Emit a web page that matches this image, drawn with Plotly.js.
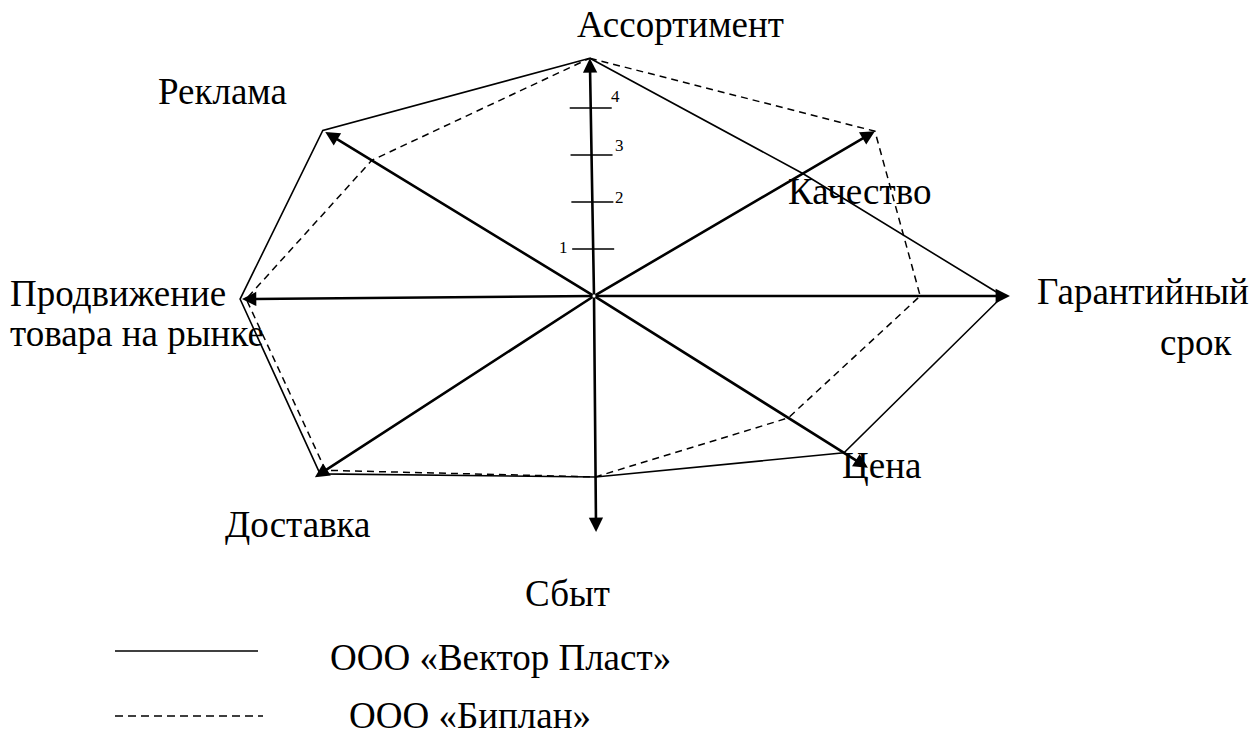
<!DOCTYPE html>
<html>
<head>
<meta charset="utf-8">
<script src="https://cdn.plot.ly/plotly-3.0.1.min.js"></script>
<style>
  html, body { margin: 0; padding: 0; background: #fff; }
  #chart { width: 1256px; height: 737px; }
</style>
</head>
<body>
<div id="chart"></div>
<script>
// criteria of the radar chart
const categories = ['Ассортимент', 'Качество', 'Гарантийный срок', 'Цена', 'Сбыт',
                    'Доставка', 'Продвижение товара на рынке', 'Реклама'];
// series values (score on each criterion)
const vektorPlast = [5.06, 5.15, 8.70, 6.28, 3.85, 6.95, 7.53, 6.76];
const biplan      = [5.06, 6.93, 6.94, 4.88, 3.85, 6.81, 7.40, 5.54];
const seriesNames = ['ООО «Вектор Пласт»', 'ООО «Биплан»'];
// scale marks on the first axis
const tickVals = [1, 2, 3, 4];

// drawing layout of the axes (direction in degrees, arrow length in scale units)
const axisAngles  = [91.0, 30.4, 0, -32.1, -89.5, 213.0, 180.5, 148.6];
const axisLengths = [5.06, 6.93, 8.85, 6.88, 5.02, 7.08, 7.49, 6.70];

const W = 1256, H = 737;
const UNIT = 47;          // px per scale unit
const CX = 594, CY = 296; // centre of the chart in px

const rad = d => d * Math.PI / 180;
const polX = (r, i) => r * Math.cos(rad(axisAngles[i]));
const polY = (r, i) => r * Math.sin(rad(axisAngles[i]));

function polygon(values) {
    const x = values.map((v, i) => polX(v, i));
    const y = values.map((v, i) => polY(v, i));
    x.push(x[0]); y.push(y[0]);
    return { x, y };
}

const solid = polygon(vektorPlast);
const dashed = polygon(biplan);

const traces = [
    {
        type: 'scatter', mode: 'lines', name: seriesNames[0],
        x: solid.x, y: solid.y,
        line: { color: '#000', width: 1.6 }
    },
    {
        type: 'scatter', mode: 'lines', name: seriesNames[1],
        x: dashed.x, y: dashed.y,
        line: { color: '#000', width: 1.5, dash: '7px,5px' }
    },
    {
        type: 'scatter', mode: 'markers', name: 'scale',
        x: tickVals.map(t => polX(t, 0)),
        y: tickVals.map(t => polY(t, 0)),
        marker: { symbol: 'line-ew', size: 30, color: '#000', line: { color: '#000', width: 1.6 } }
    }
];

const FAMILY = 'Liberation Serif';
const f = size => ({ family: FAMILY, color: '#000', size: size });

// axes with arrowheads
const annotations = categories.map((c, i) => ({
    x: polX(axisLengths[i], i), y: polY(axisLengths[i], i),
    xref: 'x', yref: 'y',
    ax: 0, ay: 0, axref: 'x', ayref: 'y',
    text: '', showarrow: true,
    arrowhead: 2, arrowsize: 1.1, arrowwidth: 2.6, arrowcolor: '#000', standoff: 0
}));

// tick labels of the scale
const tickShift = [[-30, 2], [27, 5], [28, 10], [25, 12]];
tickVals.forEach((t, k) => {
    annotations.push({
        x: polX(t, 0), y: polY(t, 0), xref: 'x', yref: 'y',
        text: String(t), showarrow: false,
        xshift: tickShift[k][0], yshift: tickShift[k][1],
        font: f(17)
    });
});

// category captions (left edge, vertical centre in px)
const px = (x, y) => ({ x: x / W, y: 1 - y / H, xref: 'paper', yref: 'paper' });
const captions = [
    ['Ассортимент', 575, 25],
    ['Качество', 786, 191],
    ['Гарантийный', 1035, 291],
    ['срок', 1158, 342],
    ['Цена', 840, 465],
    ['Сбыт', 523, 593],
    ['Доставка', 223, 524],
    ['Продвижение', 8, 293],
    ['товара на рынке', 8, 334],
    ['Реклама', 156, 91]
];
captions.forEach(([t, x, y]) => {
    annotations.push(Object.assign(px(x, y), {
        text: t, showarrow: false, xanchor: 'left', yanchor: 'middle', font: f(37)
    }));
});

// legend drawn by hand
annotations.push(Object.assign(px(328, 657), {
    text: seriesNames[0], showarrow: false, xanchor: 'left', yanchor: 'middle', font: f(37)
}));
annotations.push(Object.assign(px(348, 737), {
    text: seriesNames[1], showarrow: false, xanchor: 'left', yanchor: 'bottom', borderpad: 0, font: f(37)
}));
const shapes = [
    { type: 'line', xref: 'paper', yref: 'paper', x0: 115 / W, x1: 258 / W, y0: 1 - 651 / H, y1: 1 - 651 / H,
      line: { color: '#000', width: 1.6 } },
    { type: 'line', xref: 'paper', yref: 'paper', x0: 115 / W, x1: 263 / W, y0: 1 - 716 / H, y1: 1 - 716 / H,
      line: { color: '#000', width: 1.5, dash: '8px,5px' } }
];

const layout = {
    width: W, height: H,
    margin: { l: 0, r: 0, t: 0, b: 0 },
    paper_bgcolor: '#fff', plot_bgcolor: '#fff',
    showlegend: false,
    xaxis: { range: [-CX / UNIT, (W - CX) / UNIT], visible: false, fixedrange: true },
    yaxis: { range: [-(H - CY) / UNIT, CY / UNIT], visible: false, fixedrange: true },
    annotations, shapes,
    font: { family: FAMILY, color: '#000' }
};

Plotly.newPlot('chart', traces, layout, { staticPlot: true });
</script>
</body>
</html>
